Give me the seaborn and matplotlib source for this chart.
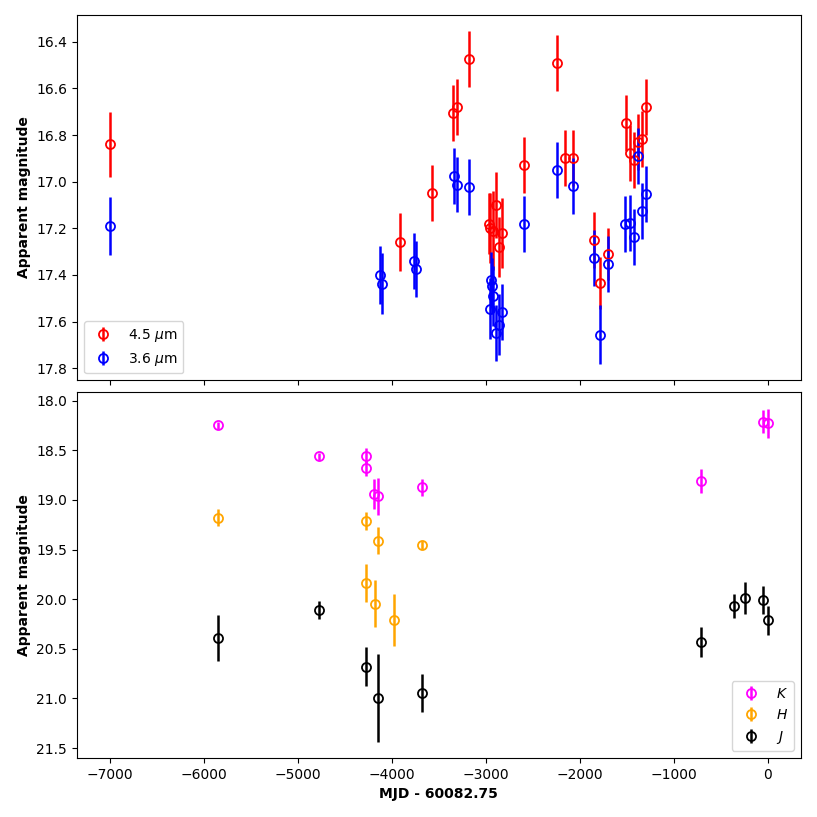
import matplotlib
matplotlib.use("Agg")
import matplotlib.pyplot as plt
import seaborn as sns
import numpy as np

# ---- Spitzer data (top panel) ----
ch2_x = [-7000, -3915, -3567, -3343, -3305, -3181, -2968, -2950, -2926, -2886, -2862, -2826,
         -2596, -2237, -2160, -2074, -1848, -1787, -1699, -1511, -1468, -1426, -1380, -1337, -1295]
ch2_y = [16.84, 17.26, 17.05, 16.705, 16.68, 16.475, 17.18, 17.20, 17.21, 17.10, 17.28, 17.22,
         16.93, 16.49, 16.90, 16.90, 17.25, 17.435, 17.31, 16.75, 16.875, 16.905, 16.83, 16.815, 16.68]
ch2_e = [0.14, 0.125, 0.12, 0.12, 0.12, 0.12, 0.13, 0.15, 0.17, 0.14, 0.13, 0.15,
         0.12, 0.12, 0.12, 0.12, 0.12, 0.11, 0.11, 0.12, 0.12, 0.12, 0.12, 0.12, 0.12]

ch1_x = [-7000, -4120, -4103, -3759, -3745, -3340, -3309, -3181, -2957, -2947, -2933, -2922,
         -2890, -2854, -2826, -2596, -2237, -2074, -1848, -1787, -1699, -1514, -1468, -1418,
         -1380, -1337, -1295]
ch1_y = [17.19, 17.40, 17.437, 17.34, 17.376, 16.977, 17.012, 17.024, 17.545, 17.42, 17.449, 17.49,
         17.649, 17.613, 17.559, 17.183, 16.95, 17.017, 17.326, 17.656, 17.353, 17.18, 17.177, 17.237,
         16.89, 17.125, 17.052]
ch1_e = [0.125, 0.125, 0.13, 0.12, 0.12, 0.12, 0.12, 0.12, 0.13, 0.12, 0.12, 0.13,
         0.12, 0.13, 0.12, 0.12, 0.12, 0.12, 0.12, 0.125, 0.12, 0.12, 0.12, 0.12,
         0.12, 0.12, 0.12]

# ---- NIR data (bottom panel) ----
K_x = [-5851, -4777, -4277, -4277, -4184, -4149, -3681, -709, -50, 0]
K_y = [18.25, 18.56, 18.56, 18.675, 18.94, 18.965, 18.875, 18.81, 18.21, 18.23]
K_e = [0.035, 0.035, 0.08, 0.08, 0.15, 0.185, 0.09, 0.12, 0.12, 0.145]

H_x = [-5851, -4277, -4149, -3681, -4277, -4181, -3975]
H_y = [19.18, 19.21, 19.41, 19.455, 19.835, 20.045, 20.21]
H_e = [0.085, 0.09, 0.14, 0.04, 0.19, 0.235, 0.265]

J_x = [-5851, -4777, -4277, -4149, -3681, -709, -362, -245, -50, 0]
J_y = [20.39, 20.11, 20.68, 20.995, 20.945, 20.43, 20.065, 19.99, 20.005, 20.215]
J_e = [0.235, 0.095, 0.2, 0.44, 0.19, 0.15, 0.12, 0.16, 0.14, 0.15]

sns.set_style("ticks", {"axes.edgecolor": "black", "xtick.color": "black",
                        "ytick.color": "black", "axes.labelcolor": "black",
                        "text.color": "black"})
plt.rcParams['font.family'] = ['DejaVu Sans']
plt.rcParams['mathtext.fontset'] = 'dejavusans'

fig, (ax1, ax2) = plt.subplots(2, 1, sharex=True, figsize=(8.17, 8.17), dpi=100)
fig.subplots_adjust(left=0.094, right=0.980, top=0.982, bottom=0.072, hspace=0.033)

kw = dict(fmt='o', mfc='none', ms=6.5, mew=1.3, elinewidth=1.8, capsize=0)

ax1.errorbar(ch2_x, ch2_y, yerr=ch2_e, color='red', label=r'4.5 $\mu$m', **kw)
ax1.errorbar(ch1_x, ch1_y, yerr=ch1_e, color='blue', label=r'3.6 $\mu$m', **kw)
ax1.invert_yaxis()
ax1.set_ylabel('Apparent magnitude', fontweight='bold')
ax1.legend(loc='lower left')

ax2.errorbar(K_x, K_y, yerr=K_e, color='magenta', label=r'$K$', **kw)
ax2.errorbar(H_x, H_y, yerr=H_e, color='orange', label=r'$H$', **kw)
ax2.errorbar(J_x, J_y, yerr=J_e, color='black', label=r'$J$', **kw)
ax2.invert_yaxis()
ax2.set_ylabel('Apparent magnitude', fontweight='bold')
ax2.set_xlabel('MJD - 60082.75', fontweight='bold')
ax2.legend(loc='lower right')

for ax in (ax1, ax2):
    for s in ax.spines.values():
        s.set_visible(True)
        s.set_linewidth(0.8)
    ax.tick_params(direction='out', length=3.5, width=0.8, labelsize=10)

fig.savefig('out.png', dpi=100)
